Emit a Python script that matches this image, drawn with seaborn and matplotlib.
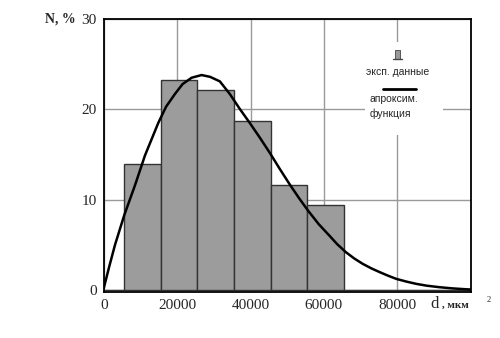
import numpy as np
import pandas as pd
import seaborn as sns
import matplotlib.pyplot as plt
from matplotlib.patches import Rectangle

# histogram: bin edges (um^2) and share of particles (%)
bin_edges = [0, 5500, 15500, 25500, 35500, 45500, 55500, 65500, 100000]
bin_share = [0, 14.0, 23.3, 22.2, 18.7, 11.6, 9.45, 0]

# approximating function
fit_d = [0, 1500, 3070, 5600, 8520, 11240, 14870, 17000, 19400, 21500, 23950,
         26670, 29000, 31650, 34370, 37000, 39800, 42500, 45250, 48000, 50690,
         53200, 55680, 58600, 61580, 63600, 66000, 68300, 70640, 73000, 75190,
         77500, 79730, 82500, 85170, 88000, 91510, 95000, 98780, 100000]
fit_n = [0.2, 2.6, 5.0, 8.3, 11.6, 14.9, 18.5, 20.3, 21.7, 22.8, 23.5,
         23.8, 23.6, 23.1, 21.7, 20.1, 18.5, 16.9, 15.2, 13.4, 11.7,
         10.2, 8.8, 7.3, 6.0, 5.1, 4.2, 3.5, 2.9, 2.4, 2.0,
         1.6, 1.25, 0.95, 0.7, 0.5, 0.33, 0.2, 0.1, 0.08]

centers = [(a + b) / 2 for a, b in zip(bin_edges[:-1], bin_edges[1:])]
hist_df = pd.DataFrame({'d': centers, 'n': bin_share})
fit_df = pd.DataFrame({'d': fit_d, 'n': fit_n})

sns.set_style('white')
plt.rcParams['font.family'] = ['Liberation Serif', 'DejaVu Serif']

fig = plt.figure(figsize=(5, 3.38), dpi=100)
ax = fig.add_axes([0.2074, 0.1361, 0.734, 0.8077])

sns.histplot(data=hist_df, x='d', weights='n', bins=bin_edges, stat='count',
             color='#9c9c9c', alpha=1, edgecolor='#333333', linewidth=1.0, ax=ax, zorder=2)
sns.lineplot(data=fit_df, x='d', y='n', color='black', linewidth=1.8, ax=ax, zorder=3)

ax.set_xlim(0, 100000)
ax.set_ylim(-0.2, 30)
ax.set_xticks([0, 20000, 40000, 60000, 80000])
ax.set_yticks([0, 10, 20, 30])
ax.grid(True, color='#9a9a9a', linewidth=1.0, zorder=0)
ax.set_axisbelow(True)
ax.tick_params(length=0, labelsize=11, pad=5)
ax.set_xlabel('')
ax.set_ylabel('')
for s in ax.spines.values():
    s.set_color('black')
    s.set_linewidth(1.3)

fig.text(0.09, 0.945, 'N, %', fontsize=10, ha='left', va='center', fontweight='bold')
fig.text(0.860, 0.0888, 'd', fontsize=12, ha='left', va='baseline')
fig.text(0.884, 0.0888, ', мкм', fontsize=8, ha='left', va='baseline', fontweight='bold')
fig.text(0.974, 0.107, '2', fontsize=6, ha='left', va='baseline')

# legend block
ax.add_patch(Rectangle((0.712, 0.575), 0.213, 0.341, transform=ax.transAxes,
                       facecolor='white', edgecolor='none', zorder=4))
ax.add_patch(Rectangle((0.795, 0.855), 0.012, 0.03, transform=ax.transAxes,
                       facecolor='#999999', edgecolor='#444444', linewidth=0.6, zorder=5))
ax.plot([0.788, 0.814], [0.853, 0.853], transform=ax.transAxes, color='#444444', lw=1, zorder=5)
ax.text(0.80, 0.805, 'эксп. данные', transform=ax.transAxes, ha='center', va='center',
        fontsize=7.5, family=['Liberation Sans', 'DejaVu Sans'], zorder=5)
ax.plot([0.760, 0.850], [0.745, 0.745], transform=ax.transAxes, color='black', lw=2, zorder=5)
ax.text(0.725, 0.725, 'апроксим.\nфункция', transform=ax.transAxes, ha='left', va='top',
        fontsize=7.5, family=['Liberation Sans', 'DejaVu Sans'], linespacing=1.5, zorder=5)

fig.savefig('out.png', dpi=100)
